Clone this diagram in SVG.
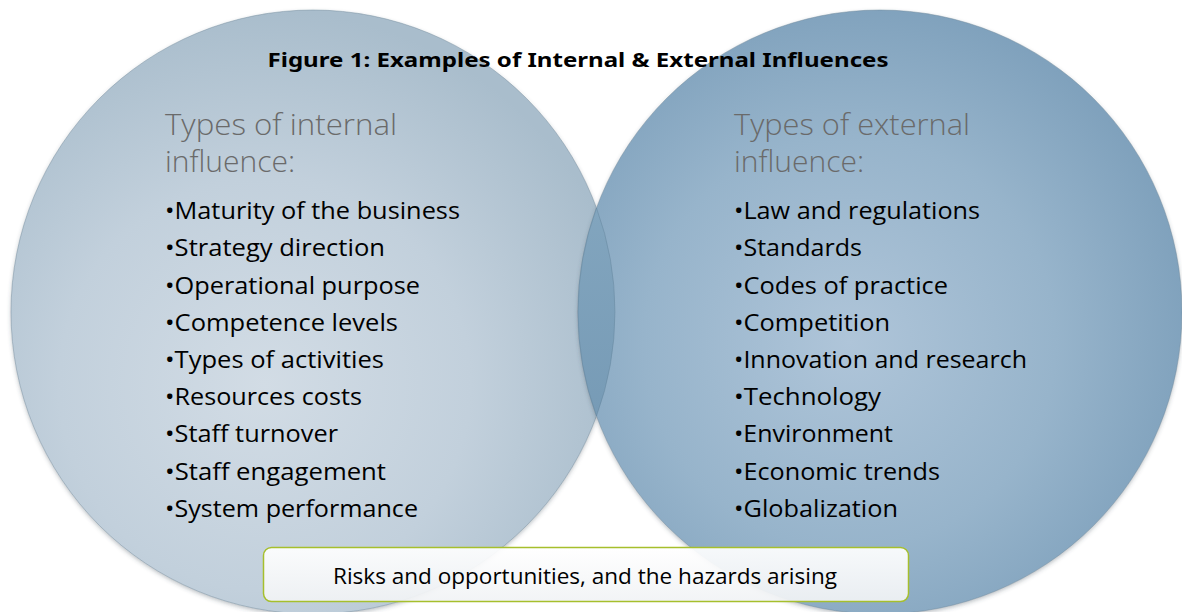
<svg xmlns="http://www.w3.org/2000/svg" width="1182" height="612" viewBox="0 0 1182 612">
  <defs>
    <radialGradient id="gLeft" cx="0.42" cy="0.62" r="0.62">
      <stop offset="0" stop-color="#d2dce5"/>
      <stop offset="0.55" stop-color="#c2d0dc"/>
      <stop offset="1" stop-color="#a9bdcc"/>
    </radialGradient>
    <radialGradient id="gRight" cx="0.45" cy="0.55" r="0.62">
      <stop offset="0" stop-color="#afc5d9"/>
      <stop offset="0.55" stop-color="#97b4cb"/>
      <stop offset="1" stop-color="#7a9db9"/>
    </radialGradient>
    <linearGradient id="gLens" x1="0" y1="0" x2="0" y2="1">
      <stop offset="0" stop-color="#82a5be"/>
      <stop offset="1" stop-color="#779bb6"/>
    </linearGradient>
    <linearGradient id="gBox" x1="0" y1="0" x2="0" y2="1">
      <stop offset="0" stop-color="#ffffff"/>
      <stop offset="1" stop-color="#f1f3f5"/>
    </linearGradient>
    <filter id="shadow" x="-10%" y="-10%" width="120%" height="120%">
      <feDropShadow dx="0" dy="2" stdDeviation="2" flood-color="#3c4a56" flood-opacity="0.35"/>
    </filter>
  </defs>
  <style>
    .title { font-family: "Noto Sans", "Open Sans", "Liberation Sans", sans-serif; font-weight: 700; font-size: 20px; fill: #000; }
    .head { font-family: "Open Sans", "Noto Sans", "Liberation Sans", sans-serif; font-weight: 300; font-size: 30px; fill: #6a6a6a; }
    .item { font-family: "Open Sans", "Noto Sans", "Liberation Sans", sans-serif; font-size: 24px; fill: #000; }
    .box { font-family: "Open Sans", "Noto Sans", "Liberation Sans", sans-serif; font-size: 22px; fill: #000; }
    .rim { fill: none; stroke: #6f8799; stroke-opacity: 0.45; stroke-width: 1; }
  </style>

  <g id="circle-internal">
    <circle cx="313" cy="312" r="302" fill="url(#gLeft)" filter="url(#shadow)"/>
    <circle class="rim" cx="313" cy="312" r="302"/>
  </g>
  <g id="circle-external">
    <circle cx="880" cy="312" r="302" fill="url(#gRight)" filter="url(#shadow)"/>
    <circle class="rim" cx="880" cy="312" r="302"/>
    <path id="overlap" d="M596.5,208 A302,302 0 0,1 596.5,416 A302,302 0 0,1 596.5,208 Z" fill="url(#gLens)" stroke="#5f7f96" stroke-opacity="0.4"/>
  </g>

  <g id="title">
    <text class="title" x="578" y="67" text-anchor="middle" textLength="621" lengthAdjust="spacingAndGlyphs">Figure 1: Examples of Internal &amp; External Influences</text>
  </g>

  <g id="internal-text">
    <text class="head" x="165" y="135" textLength="232" lengthAdjust="spacingAndGlyphs">Types of internal</text>
    <text class="head" x="165" y="172">influence:</text>
    <text class="item" x="165" y="219" textLength="295" lengthAdjust="spacingAndGlyphs">•Maturity of the business</text>
    <text class="item" x="165" y="256" textLength="220" lengthAdjust="spacingAndGlyphs">•Strategy direction</text>
    <text class="item" x="165" y="294" textLength="255" lengthAdjust="spacingAndGlyphs">•Operational purpose</text>
    <text class="item" x="165" y="331" textLength="233" lengthAdjust="spacingAndGlyphs">•Competence levels</text>
    <text class="item" x="165" y="368" textLength="219" lengthAdjust="spacingAndGlyphs">•Types of activities</text>
    <text class="item" x="165" y="405" textLength="197" lengthAdjust="spacingAndGlyphs">•Resources costs</text>
    <text class="item" x="165" y="442" textLength="173" lengthAdjust="spacingAndGlyphs">•Staff turnover</text>
    <text class="item" x="165" y="480" textLength="221" lengthAdjust="spacingAndGlyphs">•Staff engagement</text>
    <text class="item" x="165" y="517" textLength="253" lengthAdjust="spacingAndGlyphs">•System performance</text>
  </g>

  <g id="external-text">
    <text class="head" x="734" y="135" textLength="236" lengthAdjust="spacingAndGlyphs">Types of external</text>
    <text class="head" x="734" y="172">influence:</text>
    <text class="item" x="734" y="219" textLength="246" lengthAdjust="spacingAndGlyphs">•Law and regulations</text>
    <text class="item" x="734" y="256" textLength="128" lengthAdjust="spacingAndGlyphs">•Standards</text>
    <text class="item" x="734" y="294" textLength="214" lengthAdjust="spacingAndGlyphs">•Codes of practice</text>
    <text class="item" x="734" y="331" textLength="156" lengthAdjust="spacingAndGlyphs">•Competition</text>
    <text class="item" x="734" y="368" textLength="293" lengthAdjust="spacingAndGlyphs">•Innovation and research</text>
    <text class="item" x="734" y="405" textLength="147" lengthAdjust="spacingAndGlyphs">•Technology</text>
    <text class="item" x="734" y="442" textLength="159" lengthAdjust="spacingAndGlyphs">•Environment</text>
    <text class="item" x="734" y="480" textLength="206" lengthAdjust="spacingAndGlyphs">•Economic trends</text>
    <text class="item" x="734" y="517" textLength="164" lengthAdjust="spacingAndGlyphs">•Globalization</text>
  </g>

  <g id="result-box">
    <rect x="263.5" y="547.5" width="645" height="54" rx="8" ry="8" fill="url(#gBox)" fill-opacity="0.92" stroke="#a6bf2c" stroke-width="1.5"/>
    <text class="box" x="585" y="584" text-anchor="middle" textLength="504" lengthAdjust="spacingAndGlyphs">Risks and opportunities, and the hazards arising</text>
  </g>
</svg>
